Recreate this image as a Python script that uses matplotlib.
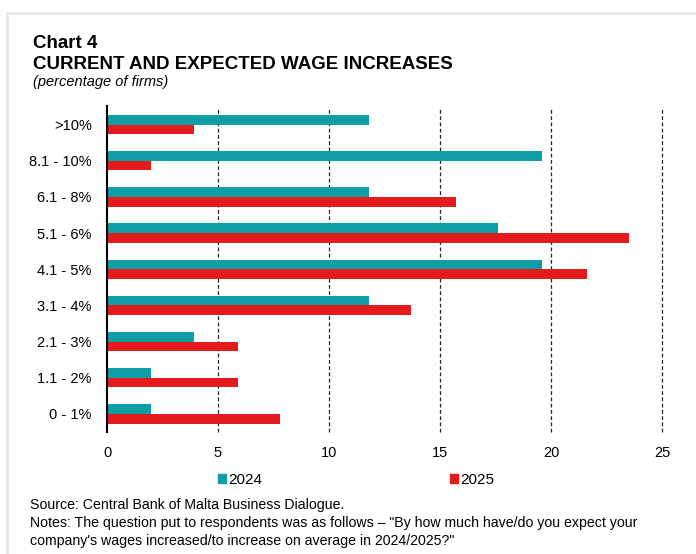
import matplotlib.pyplot as plt
from matplotlib.patches import Patch
from matplotlib.lines import Line2D
import numpy as np

plt.rcParams['font.family'] = ['Liberation Sans', 'DejaVu Sans']

# data (percentage of firms), top to bottom as shown
categories = ['>10%', '8.1 - 10%', '6.1 - 8%', '5.1 - 6%', '4.1 - 5%',
              '3.1 - 4%', '2.1 - 3%', '1.1 - 2%', '0 - 1%']
wages_2024 = [11.8, 19.6, 11.8, 17.6, 19.6, 11.8, 3.9, 2.0, 2.0]
wages_2025 = [3.9, 2.0, 15.7, 23.5, 21.6, 13.7, 5.9, 5.9, 7.8]
series_labels = ['2024', '2025']
x_ticks = [0, 5, 10, 15, 20, 25]

teal = '#0F9EA5'
red = '#E31B1C'

W, H = 696, 554
fig = plt.figure(figsize=(W / 100, H / 100), dpi=100)
ax = fig.add_axes([107 / W, 1 - 432 / H, (662 - 107) / W, (432 - 106.5) / H])

y = np.arange(len(categories))
h = 0.265
ax.barh(y - h / 2, wages_2024, height=h, color=teal, zorder=3)
ax.barh(y + h / 2, wages_2025, height=h, color=red, zorder=3)

ax.set_ylim(len(categories) - 0.5, -0.5)
ax.set_xlim(0, 25)
ax.set_yticks(y)
ax.set_yticklabels(categories, fontsize=10.5)
ax.set_xticks(x_ticks)
ax.set_xticklabels([str(t) for t in x_ticks], fontsize=10.5)
ax.tick_params(axis='both', length=0)
ax.tick_params(axis='y', pad=11)
ax.tick_params(axis='x', pad=10)

for t in x_ticks[1:]:
    ax.axvline(t, color='#222222', lw=0.9, ls=(0, (3, 2)), zorder=1, clip_on=False)

for s in ['top', 'right', 'bottom']:
    ax.spines[s].set_visible(False)
ax.spines['left'].set_linewidth(1.5)
ax.spines['left'].set_zorder(4)

# titles
fig.text(33 / W, 1 - 48 / H, 'Chart 4', fontsize=13.5, fontweight='bold', va='baseline')
fig.text(33 / W, 1 - 69 / H, 'CURRENT AND EXPECTED WAGE INCREASES', fontsize=13.5,
         fontweight='bold', va='baseline')
fig.text(33 / W, 1 - 86 / H, '(percentage of firms)', fontsize=10.5, style='italic',
         va='baseline')

# legend
handles = [Patch(color=teal), Patch(color=red)]
fig.legend(handles, series_labels, loc='center', bbox_to_anchor=(356 / W, 1 - 480 / H),
           ncol=2, frameon=False, fontsize=11, handlelength=0.5, handleheight=0.5,
           handletextpad=0.15, columnspacing=12.3)

# notes
fig.text(30 / W, 1 - 509 / H, 'Source: Central Bank of Malta Business Dialogue.',
         fontsize=10.2, va='baseline')
fig.text(30 / W, 1 - 527 / H,
         'Notes: The question put to respondents was as follows \u2013 "By how much have/do you expect your',
         fontsize=10.2, va='baseline')
fig.text(30 / W, 1 - 545 / H,
         'company\'s wages increased/to increase on average in 2024/2025?"',
         fontsize=10.2, va='baseline')

# light page frame
fig.add_artist(Line2D([7 / W, 1], [1 - 13 / H, 1 - 13 / H], color='#e8e8e8', lw=2))
fig.add_artist(Line2D([7 / W, 7 / W], [0, 1 - 13 / H], color='#e8e8e8', lw=2))

fig.savefig('out.png', dpi=100)
